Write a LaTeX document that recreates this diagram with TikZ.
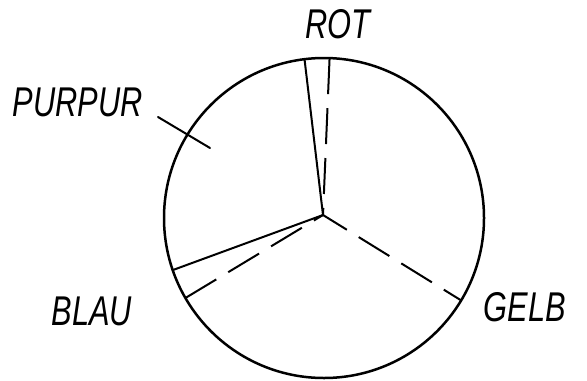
\documentclass[tikz,border=0pt]{standalone}
\usepackage{graphicx}
\usepackage{fontspec}
\setmainfont{Liberation Sans}
\usepackage{tikz}
\usetikzlibrary{positioning,calc}
\newcommand{\handtxt}[1]{\scalebox{1}[1.35]{#1}}
\tikzset{
  wheel/.style={draw, circle, line width=1.25pt, minimum size=160pt,
                inner sep=0pt, outer sep=0pt},
  cut/.style={line width=1pt, line cap=round},
  cutdash/.style={line width=1pt, dash pattern=on 18pt off 7pt},
  clabel/.style={font=\fontsize{15.4}{16}\selectfont\itshape, inner sep=0pt},
}
\begin{document}
\begin{tikzpicture}[x=0.5pt, y=-0.5pt]
\useasboundingbox (0,0) rectangle (587,380);

% colour wheel
\node[wheel] (rad) at (324,218) {};
\coordinate (hub) at (323,215);

% sector borders (solid = new, dashed = old)
\draw[cut] (hub) -- (rad.97.5);
\draw[cutdash] (rad.88.9) -- (hub);
\draw[cut] (hub) -- (rad.199.9);
\draw[cutdash] (rad.210.5) -- (hub);
\draw[cutdash, dash phase=4pt] (hub) -- (rad.329.3);

% labels
\node[clabel] (rot) at (338,24) {\handtxt{ROT}};
\node[clabel] (purpur) at (78,102) {\handtxt{PURPUR}};
\node[clabel] (blau) at (92,311) {\handtxt{BLAU}};
\node[clabel] (gelb) at (525,307) {\handtxt{GELB}};

% leader for PURPUR
\coordinate (lp1) at (158,117);
\coordinate (lp2) at (210,148);
\draw[cut] (lp1) -- (lp2);

\end{tikzpicture}
\end{document}
